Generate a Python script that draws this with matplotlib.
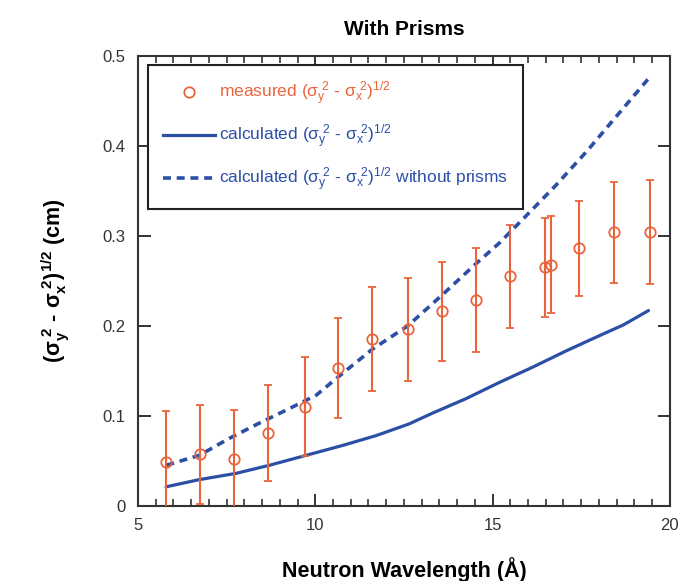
import matplotlib
matplotlib.use("Agg")
import matplotlib.pyplot as plt
from matplotlib.lines import Line2D
from matplotlib.ticker import MultipleLocator

plt.rcParams['font.family'] = ['Liberation Sans', 'DejaVu Sans']
plt.rcParams['mathtext.default'] = 'regular'

# measured data
wavelength = [5.80, 6.76, 7.72, 8.68, 9.70, 10.64, 11.61, 12.61, 13.57, 14.53,
              15.50, 16.49, 16.66, 17.45, 18.44, 19.43]
measured = [0.049, 0.057, 0.052, 0.081, 0.110, 0.153, 0.185, 0.196, 0.216, 0.229,
            0.255, 0.265, 0.268, 0.286, 0.304, 0.304]
meas_err = [0.056, 0.055, 0.054, 0.053, 0.055, 0.056, 0.058, 0.057, 0.055, 0.058,
            0.057, 0.055, 0.054, 0.053, 0.056, 0.058]

# calculated (with prisms)
calc_x = [5.79, 6.73, 7.77, 8.71, 9.74, 10.77, 11.72, 12.65, 13.31, 14.25,
          15.19, 16.13, 17.07, 18.01, 18.69, 19.40]
calc_y = [0.021, 0.029, 0.036, 0.045, 0.056, 0.067, 0.078, 0.091, 0.103, 0.119,
          0.137, 0.154, 0.172, 0.189, 0.201, 0.217]

# calculated without prisms
nop_x = [5.80, 6.73, 7.58, 8.43, 9.27, 10.03, 10.64, 11.61, 12.61, 13.57, 14.53,
         15.19, 15.99, 16.78, 17.68, 18.43, 19.38]
nop_y = [0.045, 0.056, 0.075, 0.092, 0.108, 0.123, 0.143, 0.174, 0.200, 0.234, 0.269,
         0.292, 0.324, 0.356, 0.395, 0.430, 0.474]

title = "With Prisms"
xlabel = "Neutron Wavelength (Å)"
ylabel = r"$(\sigma_y^{\ 2}$ - $\sigma_x^{\ 2})^{1/2}$ (cm)"
labels = [r"measured $(\sigma_y^{\ 2}$ - $\sigma_x^{\ 2})^{1/2}$",
          r"calculated $(\sigma_y^{\ 2}$ - $\sigma_x^{\ 2})^{1/2}$",
          r"calculated $(\sigma_y^{\ 2}$ - $\sigma_x^{\ 2})^{1/2}$ without prisms"]

orange = "#e9643a"
blue = "#2c4fa6"
axcol = "#333333"

fig = plt.figure(figsize=(6.8, 5.81), dpi=100)
ax = fig.add_axes([0.203, 0.1296, 0.782, 0.774])

ax.plot(calc_x, calc_y, color=blue, lw=2.3, solid_capstyle='round')
ax.plot(nop_x, nop_y, color=blue, lw=2.6, dashes=(2.2, 1.6))
ax.errorbar(wavelength, measured, yerr=meas_err, fmt='o', mfc='none', mec=orange,
            ms=7.5, mew=1.3, ecolor=orange, elinewidth=1.5, capsize=3, capthick=1.3,
            zorder=3)

ax.set_xlim(5, 20)
ax.set_ylim(0, 0.5)
ax.xaxis.set_major_locator(MultipleLocator(5))
ax.xaxis.set_minor_locator(MultipleLocator(0.5))
ax.set_yticks([0, 0.1, 0.2, 0.3, 0.4, 0.5])
ax.set_yticklabels(["0", "0.1", "0.2", "0.3", "0.4", "0.5"])
ax.tick_params(which='both', direction='in', top=True, right=True, color=axcol,
               labelcolor="#333333", labelsize=12)
ax.tick_params(axis='x', pad=9)
ax.tick_params(axis='y', pad=9)
ax.tick_params(which='major', length=9, width=1.4)
ax.tick_params(which='minor', length=5, width=1.2)
for s in ax.spines.values():
    s.set_linewidth(1.5)
    s.set_color(axcol)

ax.set_title(title, fontsize=15, fontweight='bold', pad=15)
ax.set_xlabel(xlabel, fontsize=15.5, fontweight='bold', labelpad=17)
ax.set_ylabel(ylabel, fontsize=15.5, fontweight='bold', labelpad=22)

handles = [Line2D([], [], ls='none', marker='o', mfc='none', mec=orange, ms=7.5, mew=1.3),
           Line2D([], [], color=blue, lw=2.3),
           Line2D([], [], color=blue, lw=2.6, dashes=(2.2, 1.6))]
leg = ax.legend(handles, labels, loc='upper left', bbox_to_anchor=(0.019, 0.98),
                fontsize=12.5, labelcolor=[orange, blue, blue], frameon=True,
                fancybox=False, framealpha=1, edgecolor='#222222', borderpad=0.85,
                labelspacing=0.85, handlelength=3.0, handletextpad=0.25,
                borderaxespad=0)
leg.get_frame().set_linewidth(1.5)

fig.savefig("out.png", dpi=100)
